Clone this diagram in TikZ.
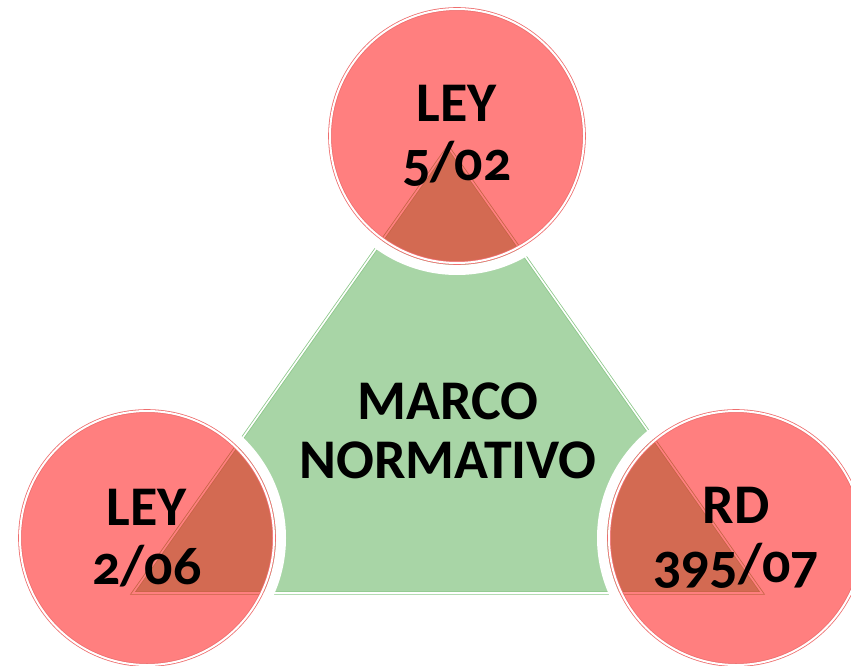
\documentclass[tikz,border=0pt]{standalone}
\usepackage{fontspec}
\setmainfont{Carlito}[Numbers=OldStyle]
\definecolor{tgreen}{RGB}{168,213,166}
\definecolor{tgreenline}{RGB}{140,200,138}
\definecolor{credline}{RGB}{238,110,110}
\tikzset{
  lawcirc/.style={circle, minimum size=254pt, inner sep=0pt, outer sep=0pt,
    fill=red, fill opacity=0.5, text opacity=1,
    draw=credline, draw opacity=1, line width=0.8pt, double=white, double distance=2pt,
    align=center, font=\bfseries\fontsize{56}{59}\selectfont},
  halo/.style={draw=white, line width=10pt},
  centertext/.style={align=center, inner sep=0pt, font=\bfseries\fontsize{56}{59}\selectfont}
}
\begin{document}
\begin{tikzpicture}[x=1pt,y=-1pt]
\useasboundingbox (0,0) rectangle (851,666);
\clip (0,0) rectangle (851,666);
\coordinate (A) at (448,147);
\coordinate (B) at (133,593);
\coordinate (C) at (762,593);
\coordinate (ctop) at (457,136);
\coordinate (cleft) at (147,538);
\coordinate (cright) at (736,538);
\fill[tgreen] (A) -- (B) -- (C) -- cycle;
\draw[tgreenline, line width=0.8pt, double=white, double distance=1.6pt, line join=miter] (A) -- (B) -- (C) -- cycle;
\node[centertext] (marco) at (448,431) {MARCO\\NORMATIVO};
\draw[halo] (ctop) circle[radius=134pt];
\draw[halo] (cleft) circle[radius=134pt];
\draw[halo] (cright) circle[radius=134pt];
\node[lawcirc] (ley5) at (ctop) {LEY\\5/02};
\node[lawcirc] (ley2) at (cleft) {LEY\\2/06};
\node[lawcirc] (rd) at (cright) {RD\\395/07};
\end{tikzpicture}
\end{document}
